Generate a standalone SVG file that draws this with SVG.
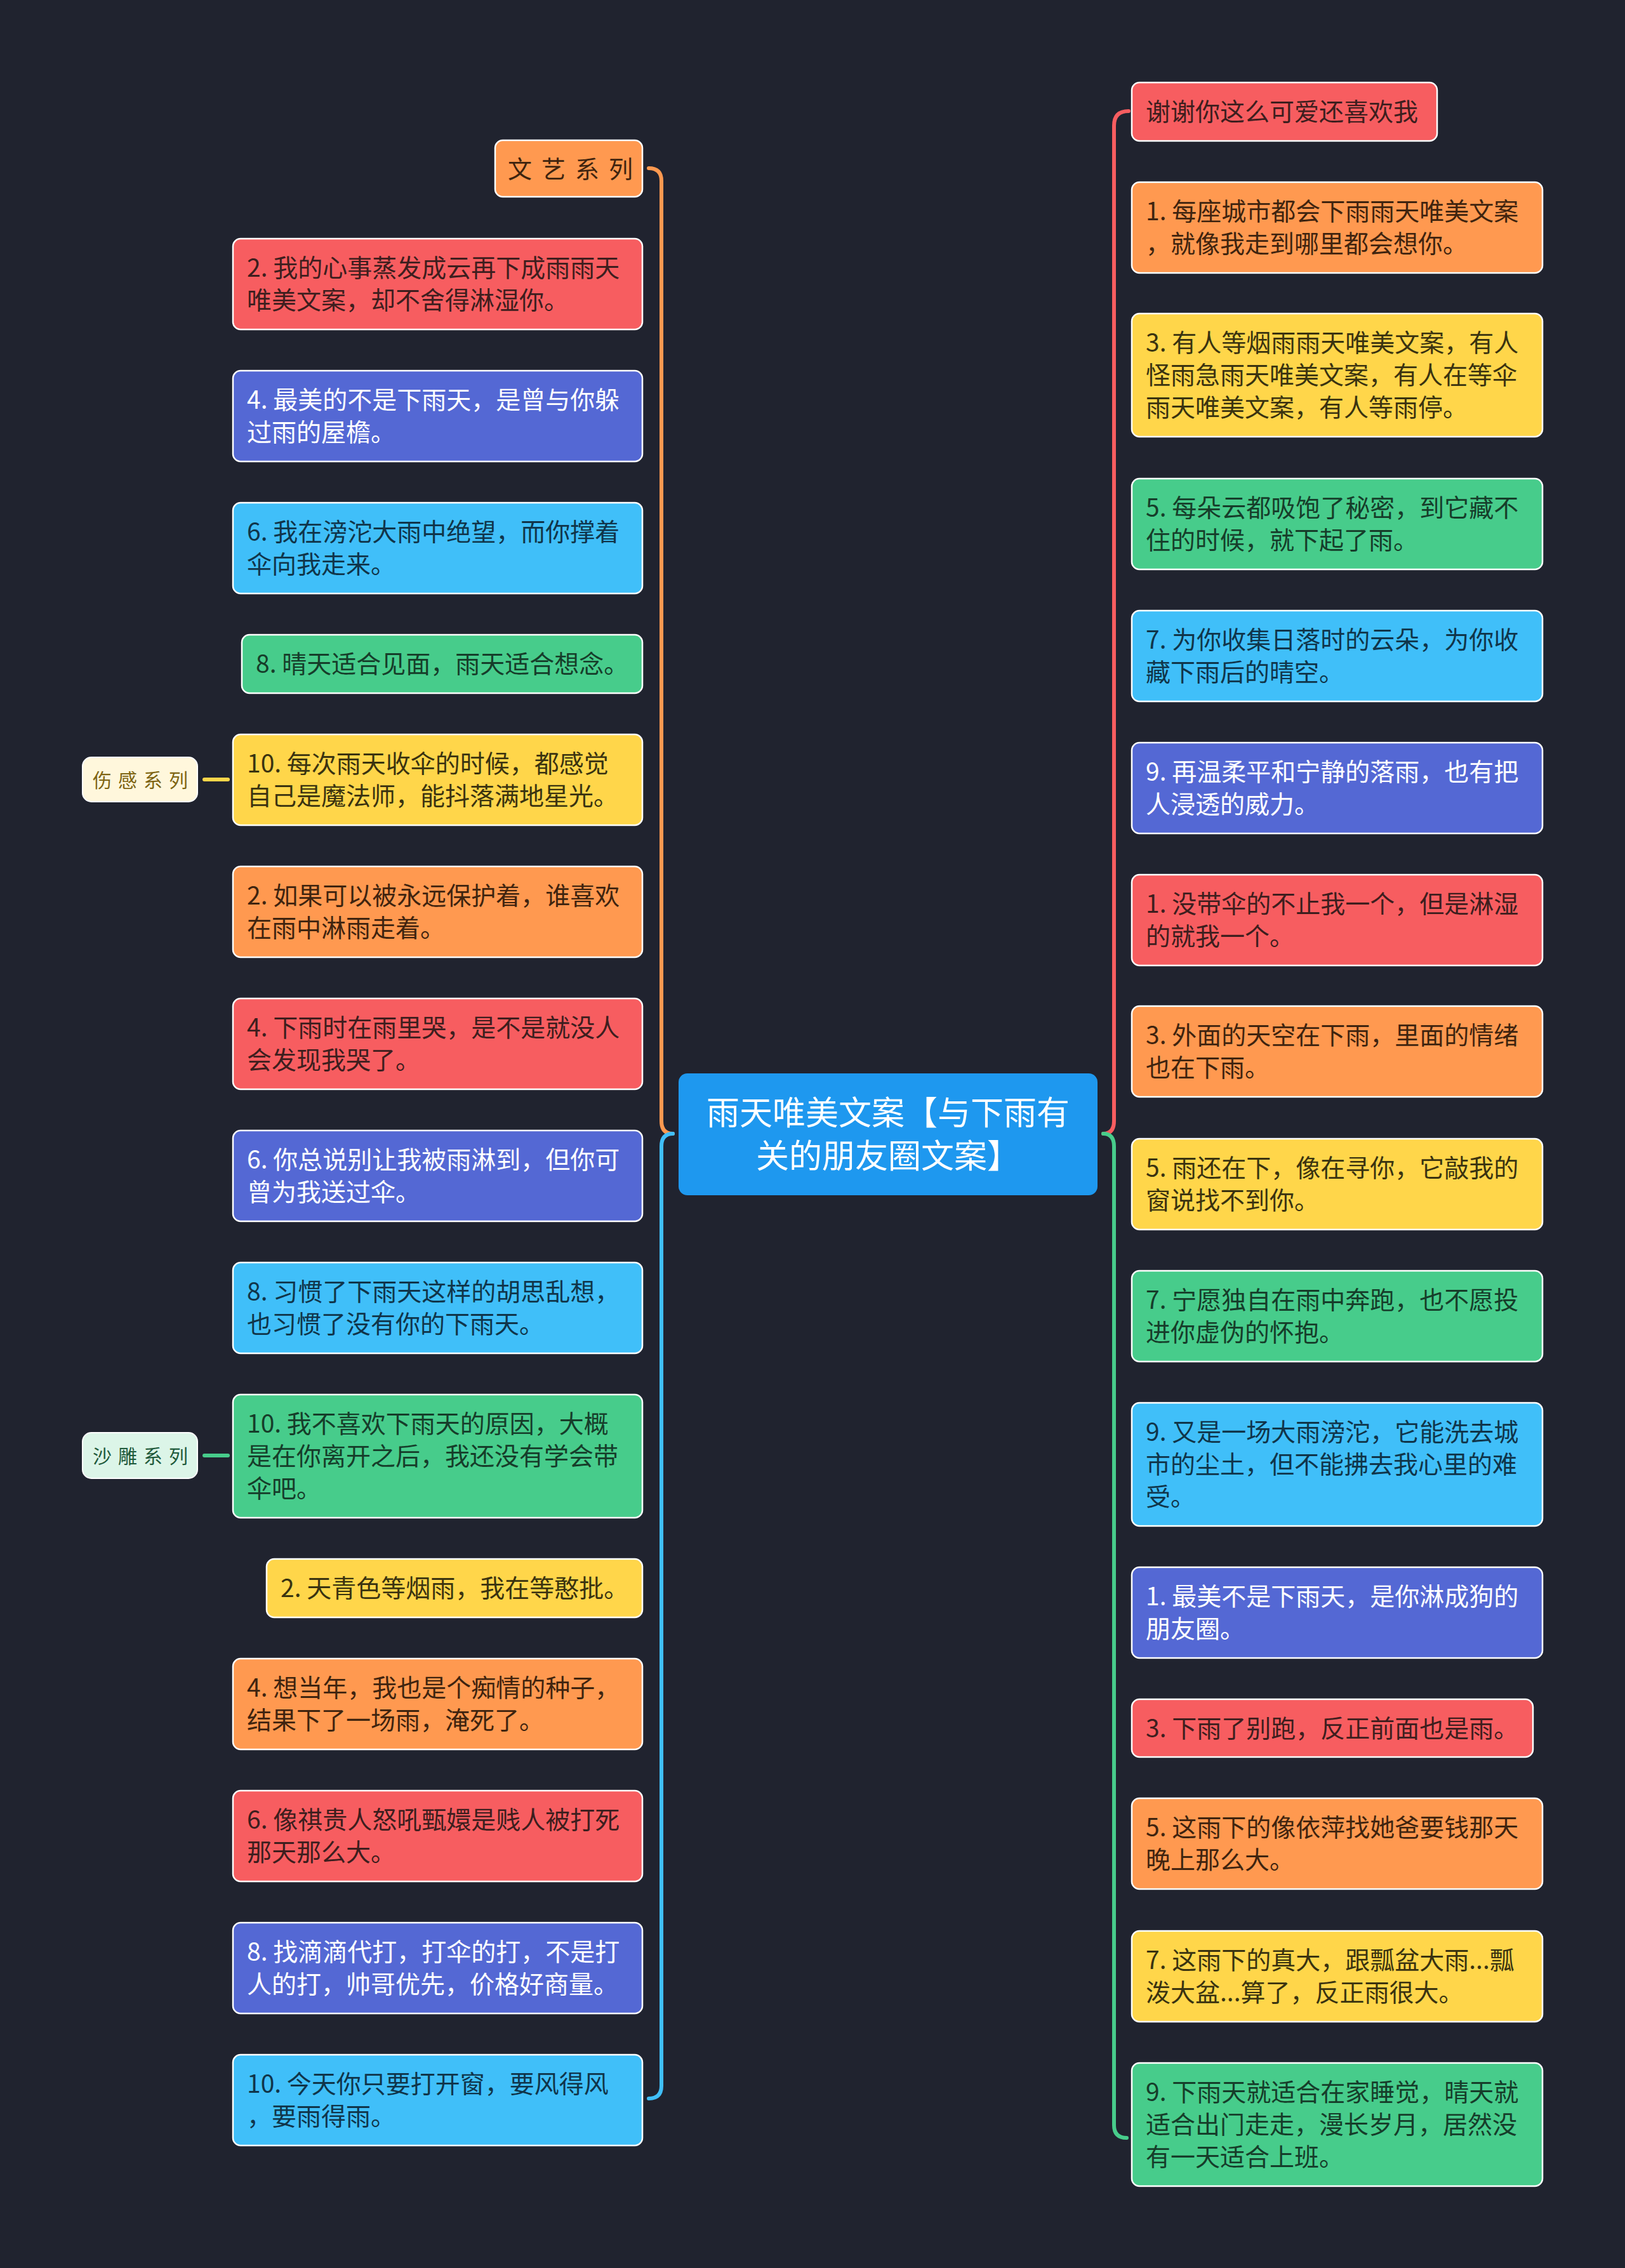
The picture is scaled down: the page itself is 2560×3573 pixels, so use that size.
<svg xmlns="http://www.w3.org/2000/svg" width="2560" height="3573" viewBox="0 0 2560 3573">
<style>
.box{stroke:#ffffff;stroke-width:2.5}
.red{fill:#f75d60}.ora{fill:#ff9950}.yel{fill:#ffd64a}.grn{fill:#47cc8b}.cya{fill:#40bff9}.ind{fill:#5468d4}
text{font-family:"Noto Sans CJK SC","Noto Sans",sans-serif;font-size:39px}
.tr{fill:#3e1e1e}.to{fill:#3f240f}.ty{fill:#3a3310}.tg{fill:#163d2a}.tc{fill:#10354a}.ti{fill:#ffffff}
.lk{fill:none;stroke-width:6;stroke-linecap:round}
</style>
<rect width="2560" height="3573" fill="#20232f"/>
<g id="connectors">
<path class="lk" stroke="#ff9950" d="M1022 265 Q1042 265 1042 285 L1042 1766 Q1042 1786 1060 1786"/>
<path class="lk" stroke="#40bff9" d="M1060 1786 Q1042 1786 1042 1806 L1042 3286 Q1042 3306 1022 3306"/>
<path class="lk" stroke="#f75d60" d="M1778 175 Q1755 175 1755 198 L1755 1766 Q1755 1786 1738 1786"/>
<path class="lk" stroke="#47cc8b" d="M1738 1786 Q1755 1786 1755 1806 L1755 3348 Q1755 3368 1775 3368"/>
<path class="lk" stroke="#ffd64a" d="M322 1228 L359 1228"/>
<path class="lk" stroke="#47cc8b" d="M322 2293 L359 2293"/>
</g>
<g id="center">
<rect x="1069" y="1691" width="660" height="192" rx="14" fill="#1e98ef"/>
<text x="1399" y="1772" text-anchor="middle" fill="#ffffff" style="font-size:52px">雨天唯美文案【与下雨有</text>
<text x="1399" y="1840" text-anchor="middle" fill="#ffffff" style="font-size:52px">关的朋友圈文案】</text>
</g>
<g id="n-wenyi">
<rect class="box ora" x="780" y="221" width="232" height="89" rx="12"/>
<text x="800" y="280" class="to" style="font-size:38px;letter-spacing:15px">文艺系列</text>
</g>
<g id="n-shanggan">
<rect x="130" y="1193" width="181" height="70" rx="14" fill="#fff7dc" stroke="#ffffff" stroke-width="2"/>
<text x="146" y="1240" fill="#7d6412" style="font-size:30px;letter-spacing:10px">伤感系列</text>
</g>
<g id="n-shadiao">
<rect x="130" y="2257" width="181" height="72" rx="14" fill="#dcf5e8" stroke="#ffffff" stroke-width="2"/>
<text x="146" y="2305" fill="#1f5a3b" style="font-size:30px;letter-spacing:10px">沙雕系列</text>
</g>
<g id="l1"><rect class="box red" x="367" y="376" width="645" height="143" rx="12"/>
<text class="tr" x="389" y="436">2. 我的心事蒸发成云再下成雨雨天</text><text class="tr" x="389" y="487">唯美文案，却不舍得淋湿你。</text></g>
<g id="l2"><rect class="box ind" x="367" y="584" width="645" height="143" rx="12"/>
<text class="ti" x="389" y="644">4. 最美的不是下雨天，是曾与你躲</text><text class="ti" x="389" y="695">过雨的屋檐。</text></g>
<g id="l3"><rect class="box cya" x="367" y="792" width="645" height="143" rx="12"/>
<text class="tc" x="389" y="852">6. 我在滂沱大雨中绝望，而你撑着</text><text class="tc" x="389" y="903">伞向我走来。</text></g>
<g id="l4"><rect class="box grn" x="381" y="1000" width="631" height="92" rx="12"/>
<text class="tg" x="403" y="1060">8. 晴天适合见面，雨天适合想念。</text></g>
<g id="l5"><rect class="box yel" x="367" y="1157" width="645" height="143" rx="12"/>
<text class="ty" x="389" y="1217">10. 每次雨天收伞的时候，都感觉</text><text class="ty" x="389" y="1268">自己是魔法师，能抖落满地星光。</text></g>
<g id="l6"><rect class="box ora" x="367" y="1365" width="645" height="143" rx="12"/>
<text class="to" x="389" y="1425">2. 如果可以被永远保护着，谁喜欢</text><text class="to" x="389" y="1476">在雨中淋雨走着。</text></g>
<g id="l7"><rect class="box red" x="367" y="1573" width="645" height="143" rx="12"/>
<text class="tr" x="389" y="1633">4. 下雨时在雨里哭，是不是就没人</text><text class="tr" x="389" y="1684">会发现我哭了。</text></g>
<g id="l8"><rect class="box ind" x="367" y="1781" width="645" height="143" rx="12"/>
<text class="ti" x="389" y="1841">6. 你总说别让我被雨淋到，但你可</text><text class="ti" x="389" y="1892">曾为我送过伞。</text></g>
<g id="l9"><rect class="box cya" x="367" y="1989" width="645" height="143" rx="12"/>
<text class="tc" x="389" y="2049">8. 习惯了下雨天这样的胡思乱想，</text><text class="tc" x="389" y="2100">也习惯了没有你的下雨天。</text></g>
<g id="l10"><rect class="box grn" x="367" y="2197" width="645" height="194" rx="12"/>
<text class="tg" x="389" y="2257">10. 我不喜欢下雨天的原因，大概</text><text class="tg" x="389" y="2308">是在你离开之后，我还没有学会带</text><text class="tg" x="389" y="2359">伞吧。</text></g>
<g id="l11"><rect class="box yel" x="420" y="2456" width="592" height="92" rx="12"/>
<text class="ty" x="442" y="2516">2. 天青色等烟雨，我在等憨批。</text></g>
<g id="l12"><rect class="box ora" x="367" y="2613" width="645" height="143" rx="12"/>
<text class="to" x="389" y="2673">4. 想当年，我也是个痴情的种子，</text><text class="to" x="389" y="2724">结果下了一场雨，淹死了。</text></g>
<g id="l13"><rect class="box red" x="367" y="2821" width="645" height="143" rx="12"/>
<text class="tr" x="389" y="2881">6. 像祺贵人怒吼甄嬛是贱人被打死</text><text class="tr" x="389" y="2932">那天那么大。</text></g>
<g id="l14"><rect class="box ind" x="367" y="3029" width="645" height="143" rx="12"/>
<text class="ti" x="389" y="3089">8. 找滴滴代打，打伞的打，不是打</text><text class="ti" x="389" y="3140">人的打，帅哥优先，价格好商量。</text></g>
<g id="l15"><rect class="box cya" x="367" y="3237" width="645" height="143" rx="12"/>
<text class="tc" x="389" y="3297">10. 今天你只要打开窗，要风得风</text><text class="tc" x="389" y="3348">，要雨得雨。</text></g>
<g id="r0"><rect class="box red" x="1783" y="130" width="481" height="92" rx="12"/>
<text class="tr" x="1805" y="190">谢谢你这么可爱还喜欢我</text></g>
<g id="r1"><rect class="box ora" x="1783" y="287" width="647" height="143" rx="12"/>
<text class="to" x="1805" y="347">1. 每座城市都会下雨雨天唯美文案</text><text class="to" x="1805" y="398">，就像我走到哪里都会想你。</text></g>
<g id="r2"><rect class="box yel" x="1783" y="494" width="647" height="194" rx="12"/>
<text class="ty" x="1805" y="554">3. 有人等烟雨雨天唯美文案，有人</text><text class="ty" x="1805" y="605">怪雨急雨天唯美文案，有人在等伞</text><text class="ty" x="1805" y="656">雨天唯美文案，有人等雨停。</text></g>
<g id="r3"><rect class="box grn" x="1783" y="754" width="647" height="143" rx="12"/>
<text class="tg" x="1805" y="814">5. 每朵云都吸饱了秘密，到它藏不</text><text class="tg" x="1805" y="865">住的时候，就下起了雨。</text></g>
<g id="r4"><rect class="box cya" x="1783" y="962" width="647" height="143" rx="12"/>
<text class="tc" x="1805" y="1022">7. 为你收集日落时的云朵，为你收</text><text class="tc" x="1805" y="1073">藏下雨后的晴空。</text></g>
<g id="r5"><rect class="box ind" x="1783" y="1170" width="647" height="143" rx="12"/>
<text class="ti" x="1805" y="1230">9. 再温柔平和宁静的落雨，也有把</text><text class="ti" x="1805" y="1281">人浸透的威力。</text></g>
<g id="r6"><rect class="box red" x="1783" y="1378" width="647" height="143" rx="12"/>
<text class="tr" x="1805" y="1438">1. 没带伞的不止我一个，但是淋湿</text><text class="tr" x="1805" y="1489">的就我一个。</text></g>
<g id="r7"><rect class="box ora" x="1783" y="1585" width="647" height="143" rx="12"/>
<text class="to" x="1805" y="1645">3. 外面的天空在下雨，里面的情绪</text><text class="to" x="1805" y="1696">也在下雨。</text></g>
<g id="r8"><rect class="box yel" x="1783" y="1794" width="647" height="143" rx="12"/>
<text class="ty" x="1805" y="1854">5. 雨还在下，像在寻你，它敲我的</text><text class="ty" x="1805" y="1905">窗说找不到你。</text></g>
<g id="r9"><rect class="box grn" x="1783" y="2002" width="647" height="143" rx="12"/>
<text class="tg" x="1805" y="2062">7. 宁愿独自在雨中奔跑，也不愿投</text><text class="tg" x="1805" y="2113">进你虚伪的怀抱。</text></g>
<g id="r10"><rect class="box cya" x="1783" y="2210" width="647" height="194" rx="12"/>
<text class="tc" x="1805" y="2270">9. 又是一场大雨滂沱，它能洗去城</text><text class="tc" x="1805" y="2321">市的尘土，但不能拂去我心里的难</text><text class="tc" x="1805" y="2372">受。</text></g>
<g id="r11"><rect class="box ind" x="1783" y="2469" width="647" height="143" rx="12"/>
<text class="ti" x="1805" y="2529">1. 最美不是下雨天，是你淋成狗的</text><text class="ti" x="1805" y="2580">朋友圈。</text></g>
<g id="r12"><rect class="box red" x="1783" y="2677" width="632" height="91" rx="12"/>
<text class="tr" x="1805" y="2737">3. 下雨了别跑，反正前面也是雨。</text></g>
<g id="r13"><rect class="box ora" x="1783" y="2833" width="647" height="143" rx="12"/>
<text class="to" x="1805" y="2893">5. 这雨下的像依萍找她爸要钱那天</text><text class="to" x="1805" y="2944">晚上那么大。</text></g>
<g id="r14"><rect class="box yel" x="1783" y="3042" width="647" height="143" rx="12"/>
<text class="ty" x="1805" y="3102">7. 这雨下的真大，跟瓢盆大雨...瓢</text><text class="ty" x="1805" y="3153">泼大盆...算了，反正雨很大。</text></g>
<g id="r15"><rect class="box grn" x="1783" y="3250" width="647" height="194" rx="12"/>
<text class="tg" x="1805" y="3310">9. 下雨天就适合在家睡觉，晴天就</text><text class="tg" x="1805" y="3361">适合出门走走，漫长岁月，居然没</text><text class="tg" x="1805" y="3412">有一天适合上班。</text></g>
</svg>
